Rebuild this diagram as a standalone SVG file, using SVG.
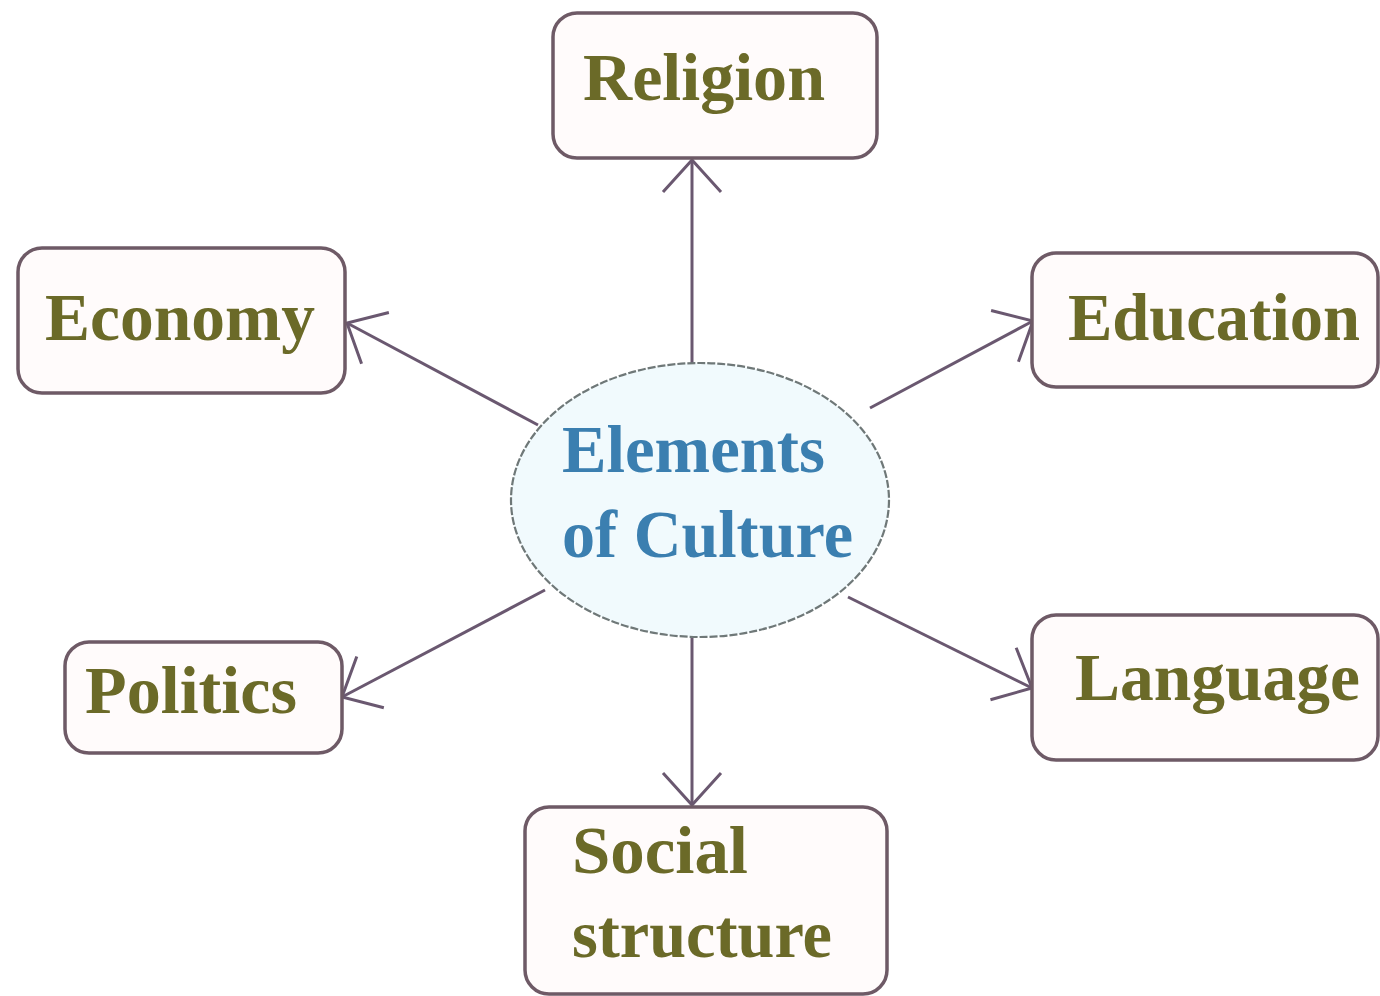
<svg xmlns="http://www.w3.org/2000/svg" width="1380" height="996" viewBox="0 0 1380 996">
  <style>
    .box { fill: #fffbfb; stroke: #6e5a66; stroke-width: 3.5; }
    .lbl { font-family: "Liberation Serif", "Times New Roman", serif; font-weight: bold; font-size: 68px; fill: #6b6a28; }
    .ctr { font-family: "Liberation Serif", "Times New Roman", serif; font-weight: bold; font-size: 68px; fill: #3b7fb0; }
    .conn { stroke: #6a5870; stroke-width: 3; fill: none; }
  </style>
  <defs>
    <marker id="arr" markerUnits="userSpaceOnUse" markerWidth="50" markerHeight="70" refX="0" refY="0" viewBox="-40 -35 50 70" orient="auto">
      <path d="M -32 -29 L 0 0 L -32 29" fill="none" stroke="#6a5870" stroke-width="3"/>
    </marker>
  </defs>
  <rect width="1380" height="996" fill="#ffffff"/>

  <g id="connectors">
    <line class="conn" x1="692" y1="363" x2="692" y2="160" marker-end="url(#arr)"/>
    <line class="conn" x1="538" y1="425" x2="347" y2="323" marker-end="url(#arr)"/>
    <line class="conn" x1="870" y1="408" x2="1033" y2="321" marker-end="url(#arr)"/>
    <line class="conn" x1="545" y1="590" x2="342" y2="697" marker-end="url(#arr)"/>
    <line class="conn" x1="848" y1="597" x2="1032" y2="688" marker-end="url(#arr)"/>
    <line class="conn" x1="692" y1="638" x2="692" y2="805" marker-end="url(#arr)"/>
  </g>

  <g id="center">
    <ellipse cx="700" cy="500" rx="189" ry="137" fill="#f1fafd" stroke="#6f7878" stroke-width="2.2" stroke-dasharray="8 2"/>
    <text class="ctr" x="562" y="472" textLength="263" lengthAdjust="spacingAndGlyphs">Elements</text>
    <text class="ctr" x="562" y="557" textLength="291" lengthAdjust="spacingAndGlyphs">of Culture</text>
  </g>

  <g id="religion">
    <rect class="box" x="553" y="13" width="324" height="145" rx="24"/>
    <text class="lbl" x="583" y="100" textLength="242" lengthAdjust="spacingAndGlyphs">Religion</text>
  </g>

  <g id="economy">
    <rect class="box" x="18" y="248" width="327" height="145" rx="24"/>
    <text class="lbl" x="45" y="340" textLength="270" lengthAdjust="spacingAndGlyphs">Economy</text>
  </g>

  <g id="education">
    <rect class="box" x="1032" y="253" width="346" height="134" rx="24"/>
    <text class="lbl" x="1068" y="340" textLength="292" lengthAdjust="spacingAndGlyphs">Education</text>
  </g>

  <g id="politics">
    <rect class="box" x="65" y="642" width="277" height="111" rx="24"/>
    <text class="lbl" x="85" y="713" textLength="212" lengthAdjust="spacingAndGlyphs">Politics</text>
  </g>

  <g id="language">
    <rect class="box" x="1032" y="615" width="346" height="145" rx="24"/>
    <text class="lbl" x="1075" y="700" textLength="285" lengthAdjust="spacingAndGlyphs">Language</text>
  </g>

  <g id="social-structure">
    <rect class="box" x="525" y="807" width="362" height="187" rx="24"/>
    <text class="lbl" x="572" y="873" textLength="176" lengthAdjust="spacingAndGlyphs">Social</text>
    <text class="lbl" x="572" y="957" textLength="260" lengthAdjust="spacingAndGlyphs">structure</text>
  </g>
</svg>
